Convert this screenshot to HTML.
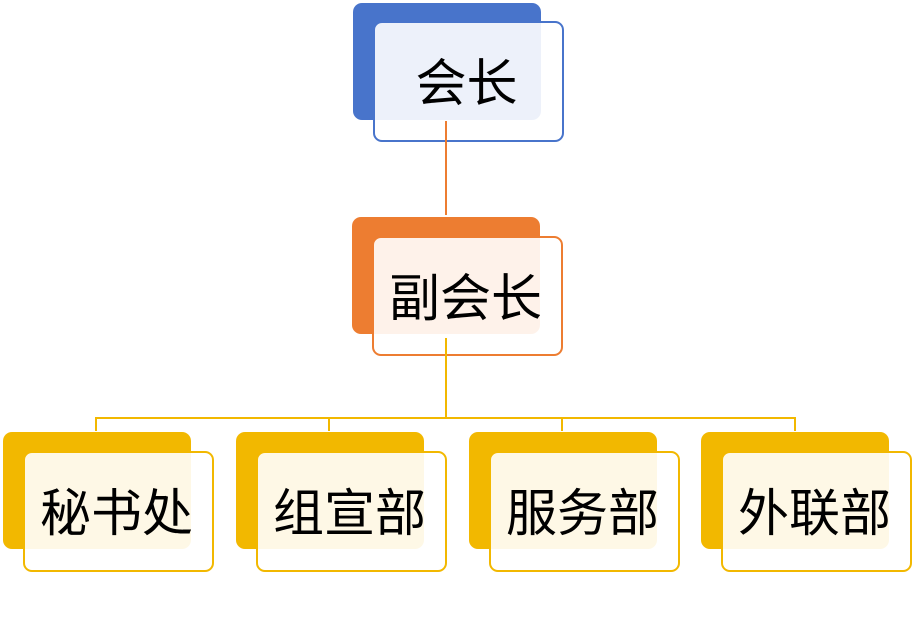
<!DOCTYPE html>
<html><head><meta charset="utf-8"><style>
html,body{margin:0;padding:0;background:#fff;}
body{width:914px;height:629px;position:relative;overflow:hidden;font-family:"Liberation Sans","Noto Sans CJK SC",sans-serif;}
.b{position:absolute;border-radius:9px;}
.f{position:absolute;border-radius:9px;box-sizing:border-box;border:2px solid;}
.t{position:absolute;overflow:hidden;white-space:nowrap;text-align:center;color:#000;font-size:51px;}
.l{position:absolute;}
</style></head><body>
<!-- top -->
<div class="b" style="left:353px;top:3px;width:188px;height:117px;background:#4874CB"></div>
<div class="f" style="left:373px;top:21px;width:191px;height:121px;border-color:#4874CB;background:rgba(255,255,255,0.9)"></div>
<div class="t" style="left:373px;top:21px;width:168px;height:99px;line-height:126px;"><span style="position:absolute;left:-2px;width:191px;top:0;">会长</span></div>
<div class="l" style="left:445px;top:121px;width:2px;height:94px;background:#ED7D31"></div>
<!-- middle -->
<div class="b" style="left:352px;top:217px;width:188px;height:117px;background:#ED7D31"></div>
<div class="f" style="left:372px;top:236px;width:191px;height:120px;border-color:#ED7D31;background:rgba(255,255,255,0.9)"></div>
<div class="t" style="left:372px;top:236px;width:168px;height:98px;line-height:126px;"><span style="position:absolute;left:-2px;width:191px;top:0;">副会长</span></div>
<div class="l" style="left:445px;top:338px;width:2px;height:81px;background:#F2B800"></div>
<div class="l" style="left:95px;top:417px;width:701px;height:2px;background:#F2B800"></div>
<div class="l" style="left:95px;top:417px;width:2px;height:14px;background:#F2B800"></div>
<div class="l" style="left:328px;top:417px;width:2px;height:14px;background:#F2B800"></div>
<div class="l" style="left:561px;top:417px;width:2px;height:14px;background:#F2B800"></div>
<div class="l" style="left:794px;top:417px;width:2px;height:14px;background:#F2B800"></div>
<!-- bottom -->
<div class="b" style="left:3px;top:432px;width:188px;height:117px;background:#F2B800"></div>
<div class="f" style="left:23px;top:451px;width:191px;height:121px;border-color:#F2B800;background:rgba(255,255,255,0.9)"></div>
<div class="t" style="left:23px;top:451px;width:168px;height:98px;line-height:126px;"><span style="position:absolute;left:-2px;width:191px;top:0;">秘书处</span></div>

<div class="b" style="left:236px;top:432px;width:188px;height:117px;background:#F2B800"></div>
<div class="f" style="left:256px;top:451px;width:191px;height:121px;border-color:#F2B800;background:rgba(255,255,255,0.9)"></div>
<div class="t" style="left:256px;top:451px;width:168px;height:98px;line-height:126px;"><span style="position:absolute;left:-2px;width:191px;top:0;">组宣部</span></div>

<div class="b" style="left:469px;top:432px;width:188px;height:117px;background:#F2B800"></div>
<div class="f" style="left:489px;top:451px;width:191px;height:121px;border-color:#F2B800;background:rgba(255,255,255,0.9)"></div>
<div class="t" style="left:489px;top:451px;width:168px;height:98px;line-height:126px;"><span style="position:absolute;left:-2px;width:191px;top:0;">服务部</span></div>

<div class="b" style="left:701px;top:432px;width:188px;height:117px;background:#F2B800"></div>
<div class="f" style="left:721px;top:451px;width:191px;height:121px;border-color:#F2B800;background:rgba(255,255,255,0.9)"></div>
<div class="t" style="left:721px;top:451px;width:168px;height:98px;line-height:126px;"><span style="position:absolute;left:-2px;width:191px;top:0;">外联部</span></div>
</body></html>
